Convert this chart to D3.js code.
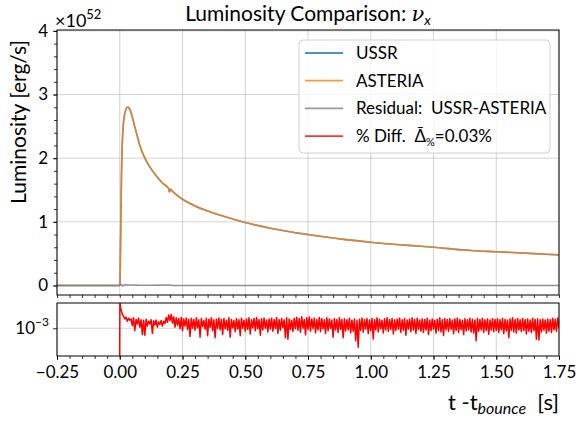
<!DOCTYPE html>
<html>
<head>
<meta charset="utf-8">
<script src="https://cdn.jsdelivr.net/npm/d3@7"></script>
<style>
  body { margin: 0; background: #fff; }
  text { font-family: Lato, "DejaVu Sans", sans-serif; fill: #000; }
</style>
</head>
<body>
<script>
const WIDTH = 582;
const HEIGHT = 421;
const LEFT = 57;
const RIGHT = 559;
const TOP_Y0 = 30, TOP_Y1 = 295;
const BOT_Y0 = 303, BOT_Y1 = 356;

// luminosity (units of 1e52 erg/s), USSR and ASTERIA agree to the eye
var lumT = [-0.25, -0.001, 0.001, 0.003, 0.005, 0.007, 0.009, 0.012, 0.016, 0.020, 0.025, 0.030, 0.034, 0.038,
  0.043, 0.050, 0.058, 0.067, 0.080, 0.100, 0.120, 0.146, 0.170, 0.195, 0.198, 0.202, 0.210, 0.230, 0.252, 0.300,
  0.358, 0.420, 0.500, 0.600, 0.750, 0.900, 1.000, 1.150, 1.250, 1.400, 1.500, 1.650, 1.750];
var ussrLum = [0, 0, 0.05, 0.6, 1.2, 1.75, 2.1, 2.4, 2.6, 2.7, 2.77, 2.8, 2.8, 2.78,
  2.74, 2.65, 2.52, 2.39, 2.2, 2.0, 1.86, 1.72, 1.61, 1.52, 1.47, 1.51, 1.48, 1.41, 1.35, 1.25,
  1.16, 1.08, 0.99, 0.9, 0.8, 0.72, 0.68, 0.63, 0.6, 0.55, 0.53, 0.5, 0.48];
var asteriaLum = [0, 0, 0.05, 0.6, 1.2, 1.75, 2.1, 2.4, 2.6, 2.7, 2.77, 2.8, 2.8, 2.78,
  2.74, 2.65, 2.52, 2.39, 2.2, 2.0, 1.86, 1.72, 1.61, 1.52, 1.47, 1.51, 1.48, 1.41, 1.35, 1.25,
  1.16, 1.08, 0.99, 0.9, 0.8, 0.72, 0.68, 0.63, 0.6, 0.55, 0.53, 0.5, 0.48];

var resT = [-0.25, 0.0, 0.005, 0.012, 0.02, 0.03, 0.05, 0.08, 0.12, 0.2, 0.21, 1.75];
var resV = [0, 0, 0.02, -0.01, 0.015, 0.005, 0.008, 0.003, 0.004, 0.006, 0, 0];

// percent difference, in units of 1e-3
var diffHeadT = [-0.001, 0.0005, 0.003];
var diffHeadV = [0.01, 3.3, 2.4];
var diffStep = 0.005;
var diffVals = [
  2.3, 1.85, 1.7, 1.5, 1.62, 1.35, 1.55, 1.42, 1.5, 1.12, 1.58, 0.9, 1.47, 1.2, 1.55, 1.05, 1.44, 0.76, 1.42, 0.74,
  1.48, 1.1, 1.36, 1.2, 1.45, 0.8, 1.38, 1.15, 1.43, 1.05, 1.32, 1.18, 1.4, 1.1, 1.36, 1.22, 1.6, 1.3, 1.78, 1.4,
  1.82, 1.25, 1.64, 1.05, 1.58, 1.15, 1.52, 0.98, 1.6, 0.9, 1.5, 1.1, 1.56, 0.95, 1.48, 0.7, 1.54, 1.0, 1.47, 0.92,
  1.57, 1.02, 1.45, 0.68, 1.52, 1.08, 1.4, 0.96, 1.55, 0.72, 1.48, 1.04, 1.58, 0.9, 1.44, 0.66, 1.5, 1.0, 1.56, 0.94,
  1.46, 0.76, 1.53, 0.98, 1.41, 0.92, 1.57, 0.68, 1.47, 1.02, 1.39, 0.86, 1.52, 0.97, 1.45, 0.72, 1.55, 1.0, 1.42, 0.88,
  1.5, 0.95, 1.58, 0.78, 1.44, 1.02, 1.53, 0.9, 1.6, 0.98, 1.46, 0.74, 1.51, 0.93, 1.56, 1.0, 1.43, 0.85, 1.5, 0.96,
  1.55, 0.88, 1.47, 0.99, 1.6, 0.8, 1.45, 0.92, 1.53, 1.03, 1.44, 0.66, 1.57, 0.62, 1.49, 0.95, 1.42, 0.87, 1.54, 0.98,
  1.62, 0.92, 1.52, 0.84, 1.65, 1.0, 1.47, 0.75, 1.58, 0.95, 1.63, 0.88, 1.5, 0.99, 1.56, 0.82, 1.46, 0.93, 1.6, 0.86,
  1.52, 0.97, 1.45, 0.8, 1.57, 0.9, 1.49, 0.99, 1.43, 0.68, 1.53, 0.93, 1.46, 0.83, 1.58, 0.95, 1.47, 0.66, 1.51, 0.89,
  1.45, 0.93, 1.54, 0.82, 1.42, 0.88, 1.5, 0.58, 1.41, 0.44, 1.48, 0.91, 1.56, 0.84, 1.46, 0.97, 1.52, 0.79, 1.43, 0.9,
  1.53, 0.63, 1.46, 0.93, 1.57, 0.85, 1.48, 0.98, 1.41, 0.81, 1.51, 0.93, 1.58, 0.87, 1.47, 0.95, 1.53, 0.78, 1.44, 0.91,
  1.49, 0.96, 1.56, 0.83, 1.45, 0.92, 1.52, 0.74, 1.43, 0.97, 1.5, 0.86, 1.58, 0.93, 1.47, 0.8, 1.54, 0.95, 1.43, 0.88,
  1.51, 0.83, 1.46, 0.93, 1.55, 0.76, 1.43, 0.9, 1.5, 0.96, 1.41, 0.81, 1.48, 0.91, 1.57, 0.85, 1.45, 0.73, 1.52, 0.93,
  1.46, 0.87, 1.53, 0.95, 1.43, 0.79, 1.5, 0.91, 1.56, 0.83, 1.47, 0.94, 1.42, 0.76, 1.51, 0.89, 1.45, 0.93, 1.54, 0.85,
  1.48, 0.81, 1.43, 0.58, 1.52, 0.88, 1.46, 0.93, 1.55, 0.83, 1.44, 0.9, 1.5, 0.77, 1.43, 0.93, 1.53, 0.86, 1.47, 0.91,
  1.51, 0.83, 1.45, 0.93, 1.54, 0.79, 1.47, 0.89, 1.43, 0.66, 1.5, 0.92, 1.57, 0.85, 1.46, 0.81, 1.52, 0.93, 1.44, 0.87,
  1.53, 0.91, 1.46, 0.78, 1.5, 0.88, 1.43, 0.83, 1.55, 0.9, 1.47, 0.62, 1.51, 0.6, 1.44, 0.85, 1.5, 0.92, 1.43, 0.81,
  1.5, 0.88, 1.46, 0.83, 1.54, 0.93, 1.48, 0.87, 1.56, 1.0
];

var xTicks = [-0.25, 0, 0.25, 0.5, 0.75, 1.0, 1.25, 1.5, 1.75];
var yTicks = [0, 1, 2, 3, 4];
var legendLabels = ["USSR", "ASTERIA", "Residual:  USSR-ASTERIA", "% Diff."];
var colors = ["#1f77b4", "#ff7f0e", "#808080", "#ff0000"];

var translate = function(x, y) { return "translate(" + x + "," + y + ")"; };

var xScale = d3.scaleLinear().domain([-0.25, 1.75]).range([LEFT, RIGHT]);
var yScale = d3.scaleLinear().domain([-0.15, 4]).range([TOP_Y1, TOP_Y0 + 0.9]);
var yLog = d3.scaleLog().domain([Math.pow(10, -3.5236), Math.pow(10, -2.5236)]).range([BOT_Y1, BOT_Y0]);

var svg = d3.select("body").append("svg")
  .attr("width", WIDTH).attr("height", HEIGHT);

var defs = svg.append("defs");
defs.append("clipPath").attr("id", "clipTop")
  .append("rect").attr("x", LEFT).attr("y", TOP_Y0).attr("width", RIGHT - LEFT).attr("height", TOP_Y1 - TOP_Y0);
defs.append("clipPath").attr("id", "clipBot")
  .append("rect").attr("x", LEFT).attr("y", BOT_Y0).attr("width", RIGHT - LEFT).attr("height", BOT_Y1 - BOT_Y0);

var minorX = d3.range(-0.25, 1.7501, 0.05);
var minorY = d3.range(0, 4.001, 0.2);

// grid
var drawGrid = function(y0, y1, yVals, ys) {
  var g = svg.append("g").attr("stroke", "#b0b0b0").attr("stroke-opacity", 0.7).attr("stroke-width", 0.8);
  g.selectAll(".gx").data(xTicks).enter().append("line")
    .attr("x1", d => xScale(d)).attr("x2", d => xScale(d)).attr("y1", y0).attr("y2", y1);
  g.selectAll(".gy").data(yVals).enter().append("line")
    .attr("x1", LEFT).attr("x2", RIGHT).attr("y1", d => ys(d)).attr("y2", d => ys(d));
};
drawGrid(TOP_Y0, TOP_Y1, yTicks, yScale);
drawGrid(BOT_Y0, BOT_Y1, [1e-3], yLog);

// top panel lines
var lumLine = d3.line().curve(d3.curveMonotoneX).x(d => xScale(d[0])).y(d => yScale(d[1]));
var topG = svg.append("g").attr("clip-path", "url(#clipTop)").attr("fill", "none")
  .attr("stroke-width", 1.6).attr("stroke-opacity", 0.8).attr("stroke-linejoin", "round");
topG.append("path").attr("stroke", colors[0]).attr("d", lumLine(d3.zip(lumT, ussrLum)));
topG.append("path").attr("stroke", colors[1]).attr("d", lumLine(d3.zip(lumT, asteriaLum)));
topG.append("path").attr("stroke", colors[2]).attr("d", lumLine(d3.zip(resT, resV)));

// bottom panel
var diffData = d3.zip(diffHeadT, diffHeadV)
  .concat(diffVals.map((v, i) => [diffStep * (i + 1), v]));
var diffLine = d3.line().x(d => xScale(d[0])).y(d => yLog(d[1] * 1e-3));
svg.append("g").attr("clip-path", "url(#clipBot)")
  .append("path").attr("fill", "none").attr("stroke", colors[3]).attr("stroke-width", 1.5)
  .attr("stroke-linejoin", "round").attr("d", diffLine(diffData));

// axes
var axisStyle = function(g) {
  g.select(".domain").remove();
  g.selectAll("line").attr("stroke", "#000").attr("stroke-width", 0.8);
  g.selectAll("text").attr("font-size", 17).attr("font-family", "Lato, 'DejaVu Sans', sans-serif");
};

svg.append("g").attr("transform", translate(0, TOP_Y1))
  .call(d3.axisBottom(xScale).tickValues(minorX).tickSize(3).tickFormat(""))
  .call(axisStyle);
svg.append("g").attr("transform", translate(0, BOT_Y1))
  .call(d3.axisBottom(xScale).tickValues(minorX).tickSize(3).tickFormat(""))
  .call(axisStyle);
svg.append("g").attr("transform", translate(0, BOT_Y1))
  .call(d3.axisBottom(xScale).tickValues(xTicks).tickSize(4).tickPadding(6).tickFormat(d3.format(".2f")))
  .call(axisStyle);

svg.append("g").attr("transform", translate(LEFT, 0))
  .call(d3.axisLeft(yScale).tickValues(minorY).tickSize(3).tickFormat(""))
  .call(axisStyle);
svg.append("g").attr("transform", translate(LEFT, 0))
  .call(d3.axisLeft(yScale).tickValues(yTicks).tickSize(4).tickPadding(5).tickFormat(d3.format("d")))
  .call(axisStyle);

svg.append("g").attr("transform", translate(LEFT, 0))
  .call(d3.axisLeft(yLog).tickValues([1e-3]).tickSize(4).tickFormat(""))
  .call(axisStyle);
var lt = svg.append("text").attr("x", LEFT - 8).attr("y", yLog(1e-3) + 6)
  .attr("text-anchor", "end").attr("font-size", 17);
lt.append("tspan").text("10");
lt.append("tspan").attr("dy", -8).attr("font-size", 12).text("−3");

// frames
[[TOP_Y0, TOP_Y1], [BOT_Y0, BOT_Y1]].forEach(function(p) {
  svg.append("rect").attr("x", LEFT).attr("y", p[0]).attr("width", RIGHT - LEFT).attr("height", p[1] - p[0])
    .attr("fill", "none").attr("stroke", "#000").attr("stroke-width", 1);
});

// offset text, title, labels
var off = svg.append("text").attr("x", LEFT - 2).attr("y", 27).attr("font-size", 18);
off.append("tspan").text("×10");
off.append("tspan").attr("dy", -8).attr("font-size", 13).text("52");

var title = svg.append("text").attr("x", (LEFT + RIGHT) / 2).attr("y", 21)
  .attr("text-anchor", "middle").attr("font-size", 21);
title.append("tspan").text("Luminosity Comparison:  ");
title.append("tspan").attr("font-style", "italic").attr("font-family", "'DejaVu Serif', serif").text("ν");
title.append("tspan").attr("font-style", "italic").attr("font-size", 14).attr("dy", 4).text("x");

svg.append("text").attr("transform", translate(26, 122) + " rotate(-90)")
  .attr("text-anchor", "middle").attr("font-size", 21).text("Luminosity [erg/s]");

var xl = svg.append("text").attr("x", RIGHT).attr("y", 410).attr("text-anchor", "end").attr("font-size", 22)
  .attr("xml:space", "preserve");
xl.append("tspan").text("t -t");
xl.append("tspan").attr("font-style", "italic").attr("font-size", 16).attr("dy", 4).text("bounce");
xl.append("tspan").attr("dy", -4).text("  [s]");

// legend
var lg = svg.append("g").attr("transform", translate(299, 40));
lg.append("rect").attr("width", 251).attr("height", 113).attr("rx", 4)
  .attr("fill", "#fff").attr("fill-opacity", 0.8).attr("stroke", "#d0d0d0").attr("stroke-width", 1);
legendLabels.forEach(function(lab, i) {
  var yy = 13 + i * 27.7;
  lg.append("line").attr("x1", 6).attr("x2", 44).attr("y1", yy).attr("y2", yy)
    .attr("stroke", colors[i]).attr("stroke-width", 1.8).attr("stroke-opacity", 0.8);
  var t = lg.append("text").attr("x", 57).attr("y", yy + 6).attr("font-size", 17).attr("xml:space", "preserve");
  t.append("tspan").text(lab);
  if (i === 3) {
    t.append("tspan").text("  Δ̄");
    t.append("tspan").attr("font-size", 11).attr("dy", 4).text("%");
    t.append("tspan").attr("dy", -4).text("=0.03%");
  }
});
</script>
</body>
</html>
